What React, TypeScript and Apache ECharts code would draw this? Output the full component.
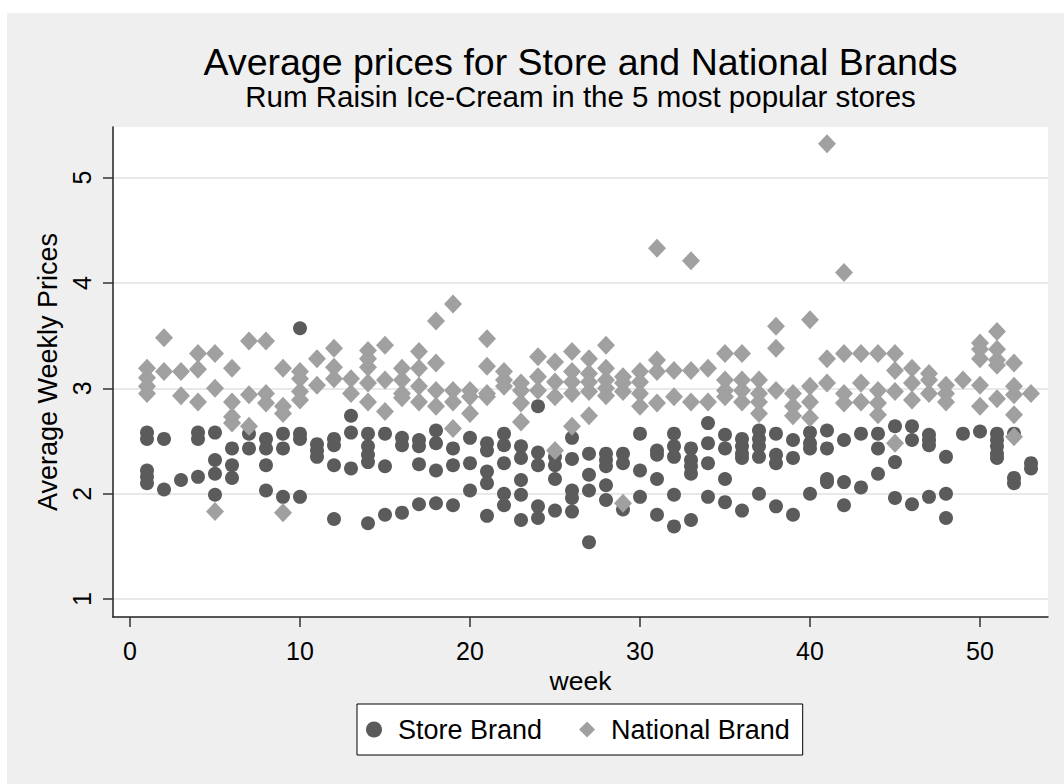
import React, { useEffect, useRef } from "react";
import * as echarts from "echarts";

// Store brand average weekly prices, index 0 = week 1
const storeByWeek: number[][] = [
  [2.58, 2.52, 2.22, 2.16, 2.10],
  [2.52, 2.04],
  [2.13],
  [2.58, 2.52, 2.16],
  [2.58, 2.32, 2.19, 1.99],
  [2.43, 2.27, 2.15],
  [2.57, 2.43],
  [2.52, 2.43, 2.27, 2.03],
  [2.57, 2.43, 1.97],
  [3.57, 2.57, 2.52, 1.97],
  [2.47, 2.41, 2.35],
  [2.52, 2.46, 2.27, 1.76],
  [2.74, 2.58, 2.24],
  [2.57, 2.45, 2.37, 2.30, 1.72],
  [2.57, 2.26, 1.80],
  [2.53, 2.46, 1.82],
  [2.51, 2.45, 2.28, 1.90],
  [2.60, 2.48, 2.22, 1.91],
  [2.43, 2.27, 1.89],
  [2.53, 2.29, 2.03],
  [2.48, 2.41, 2.21, 2.10, 1.79],
  [2.57, 2.46, 2.29, 2.00, 1.89],
  [2.45, 2.34, 2.13, 1.99, 1.75],
  [2.83, 2.39, 2.27, 1.88, 1.77],
  [2.35, 2.27, 2.14, 1.84],
  [2.53, 2.33, 2.03, 1.96, 1.83],
  [2.38, 2.18, 2.03, 1.54],
  [2.38, 2.32, 2.26, 2.08, 1.94],
  [2.38, 2.29, 1.85],
  [2.57, 2.22, 1.97],
  [2.41, 2.37, 2.14, 1.80],
  [2.57, 2.45, 2.35, 1.99, 1.69],
  [2.43, 2.32, 2.26, 2.19, 1.75],
  [2.67, 2.48, 2.29, 1.97],
  [2.56, 2.43, 2.14, 1.92],
  [2.52, 2.45, 2.38, 2.34, 1.84],
  [2.60, 2.52, 2.45, 2.35, 2.00],
  [2.57, 2.37, 2.29, 1.88],
  [2.51, 2.34, 1.80],
  [2.58, 2.48, 2.43, 2.00],
  [2.60, 2.43, 2.14, 2.11],
  [2.51, 2.11, 1.89],
  [2.57, 2.06],
  [2.57, 2.43, 2.19],
  [2.64, 2.30, 1.96],
  [2.64, 2.51, 1.90],
  [2.56, 2.51, 2.46, 1.97],
  [2.35, 2.00, 1.77],
  [2.57],
  [2.59],
  [2.57, 2.51, 2.45, 2.38, 2.34],
  [2.57, 2.15, 2.10],
  [2.29, 2.24],
];

// National brand average weekly prices, index 0 = week 1
const nationalByWeek: number[][] = [
  [3.19, 3.10, 3.02, 2.95],
  [3.48, 3.16],
  [3.16, 2.93],
  [3.33, 3.18, 2.87],
  [3.33, 3.00, 1.83],
  [3.19, 2.87, 2.73, 2.67],
  [3.45, 2.94, 2.64],
  [3.45, 2.95, 2.86],
  [3.19, 2.83, 2.76, 1.82],
  [3.16, 3.09, 2.97, 2.89],
  [3.28, 3.03],
  [3.38, 3.20, 3.09],
  [3.09, 2.95],
  [3.36, 3.28, 3.20, 3.05, 2.87],
  [3.41, 3.08, 2.78],
  [3.19, 3.08, 2.95, 2.91],
  [3.35, 3.19, 3.02, 2.87],
  [3.64, 3.24, 2.98, 2.83],
  [3.80, 2.98, 2.87, 2.62],
  [2.98, 2.92, 2.76],
  [3.47, 3.21, 2.95, 2.92],
  [3.16, 3.08, 3.02],
  [3.05, 2.98, 2.86, 2.68],
  [3.30, 3.11, 2.98],
  [3.25, 3.06, 2.92, 2.41],
  [3.35, 3.16, 3.06, 2.95, 2.64],
  [3.28, 3.14, 3.06, 2.97, 2.74],
  [3.41, 3.19, 3.08, 3.00, 2.93],
  [3.11, 3.05, 2.97, 1.91],
  [3.16, 3.06, 2.95, 2.83],
  [4.33, 3.27, 3.16, 2.86],
  [3.17, 2.92],
  [4.21, 3.17, 2.87],
  [3.19, 2.87],
  [3.33, 3.08, 2.98, 2.92],
  [3.33, 3.08, 2.98, 2.87],
  [3.08, 2.95, 2.87, 2.76],
  [3.59, 3.38, 2.98],
  [2.95, 2.83, 2.74],
  [3.65, 3.02, 2.87, 2.72],
  [5.32, 3.28, 3.05],
  [4.10, 3.33, 2.95, 2.86],
  [3.33, 3.05, 2.87],
  [3.33, 2.98, 2.86, 2.75],
  [3.33, 3.17, 2.97, 2.48],
  [3.19, 3.05, 2.89],
  [3.14, 3.08, 2.95],
  [3.03, 2.95, 2.87],
  [3.08],
  [3.43, 3.37, 3.28, 3.03, 2.83],
  [3.54, 3.37, 3.27, 3.22, 2.90],
  [3.24, 3.02, 2.94, 2.75, 2.54],
  [2.95],
];

const seriesNames = ["Store Brand", "National Brand"];
const xTicks = [0, 10, 20, 30, 40, 50];
const yTicks = [1, 2, 3, 4, 5];
const titleText = "Average prices for Store and National Brands";
const subtitleText = "Rum Raisin Ice-Cream in the 5 most popular stores";

const toPoints = (byWeek: number[][]) =>
  byWeek.flatMap((vals, i) => vals.map((v) => [i + 1, v]));

const FONT = "'Liberation Sans', Arial, Helvetica, sans-serif";

export default function App() {
  const ref = useRef<HTMLDivElement>(null);

  useEffect(() => {
    if (!ref.current) return;
    const chart = echarts.init(ref.current, undefined, { renderer: "svg" });
    chart.setOption({
      animation: false,
      backgroundColor: "transparent",
      textStyle: { fontFamily: FONT },
      graphic: [
        {
          type: "text",
          x: 580.5,
          y: 62,
          style: {
            text: titleText,
            fontSize: 37.5,
            fontFamily: FONT,
            fill: "#000",
            align: "center",
            verticalAlign: "middle",
          },
        },
        {
          type: "text",
          x: 580.5,
          y: 96.5,
          style: {
            text: subtitleText,
            fontSize: 29.5,
            fontFamily: FONT,
            fill: "#000",
            align: "center",
            verticalAlign: "middle",
          },
        },
      ],
      grid: {
        left: 113,
        top: 127,
        width: 935,
        height: 490,
        show: true,
        backgroundColor: "#ffffff",
        borderWidth: 0,
      },
      xAxis: {
        type: "value",
        min: -1,
        max: 54,
        name: "week",
        nameLocation: "middle",
        nameGap: 45,
        nameTextStyle: { fontSize: 26.5, color: "#000", fontFamily: FONT },
        axisLine: { show: true, onZero: false, lineStyle: { color: "#222", width: 1.5 } },
        axisTick: { show: true, customValues: xTicks, length: 10, lineStyle: { color: "#333", width: 1.5 } },
        axisLabel: { customValues: xTicks, fontSize: 25, color: "#000", margin: 21, fontFamily: FONT },
        splitLine: { show: false },
      },
      yAxis: {
        type: "value",
        min: 0.83,
        max: 5.48,
        name: "Average Weekly Prices",
        nameLocation: "middle",
        nameGap: 49,
        nameTextStyle: { fontSize: 27, color: "#000", fontFamily: FONT },
        axisLine: { show: true, onZero: false, lineStyle: { color: "#222", width: 1.5 } },
        axisTick: { show: true, customValues: yTicks, length: 10, lineStyle: { color: "#333", width: 1.5 } },
        axisLabel: { customValues: yTicks, rotate: 90, fontSize: 25, color: "#000", margin: 19, fontFamily: FONT },
        splitLine: { show: true, lineStyle: { color: "#e8e8e8", width: 2 } },
      },
      legend: {
        left: 357,
        top: 704,
        orient: "horizontal",
        backgroundColor: "#ffffff",
        borderColor: "#000",
        borderWidth: 1,
        borderRadius: 0,
        padding: [12, 13, 12, 9],
        itemWidth: 16,
        itemHeight: 16,
        itemGap: 37,
        textStyle: { fontSize: 27, color: "#000", fontFamily: FONT, padding: [0, 0, 0, 11] },
        data: seriesNames,
      },
      series: [
        {
          name: seriesNames[0],
          type: "scatter",
          symbol: "circle",
          symbolSize: 14,
          itemStyle: { color: "#5b5b5b", opacity: 1 },
          z: 2,
          data: toPoints(storeByWeek),
        },
        {
          name: seriesNames[1],
          type: "scatter",
          symbol: "diamond",
          symbolSize: [18, 19],
          itemStyle: { color: "#a0a0a0", opacity: 1 },
          z: 3,
          data: toPoints(nationalByWeek),
        },
      ],
    });
    return () => chart.dispose();
  }, []);

  return (
    <div style={{ position: "absolute", left: 0, top: 0, width: 1064, height: 784, background: "#ffffff", overflow: "hidden" }}>
      <div style={{ position: "absolute", left: 7, top: 13, width: 1057, height: 771, background: "#efefef" }} />
      <div ref={ref} style={{ position: "absolute", left: 0, top: 0, width: 1064, height: 784 }} />
    </div>
  );
}
